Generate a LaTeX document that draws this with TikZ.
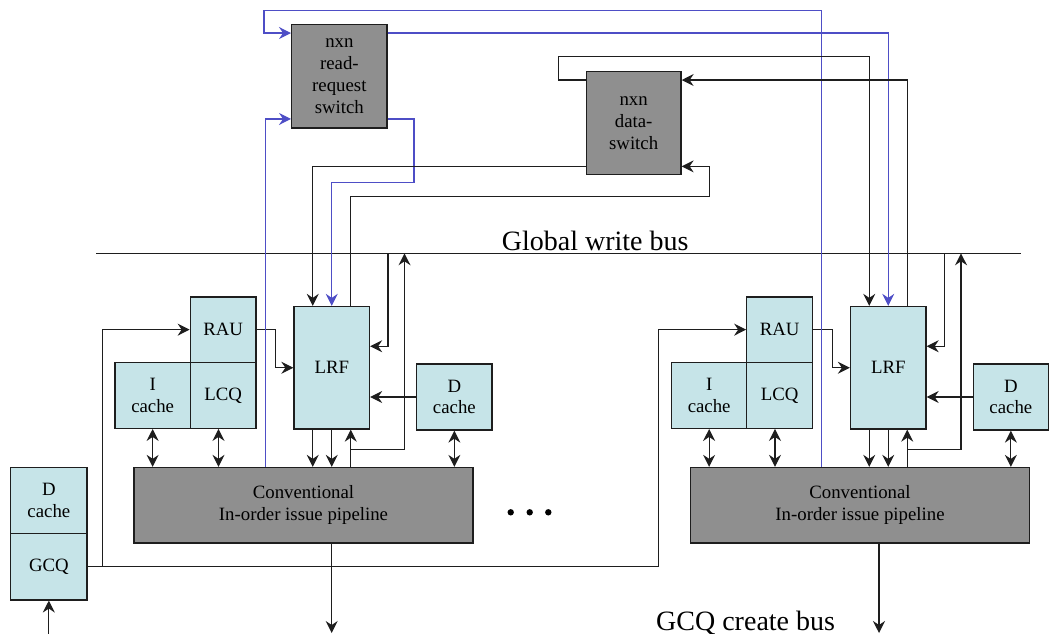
\documentclass[tikz,border=0pt]{standalone}
\usepackage{fontspec}
\setmainfont{Liberation Serif}
\usetikzlibrary{arrows.meta,calc}
\definecolor{boxfill}{HTML}{C6E4E8}
\definecolor{unitgray}{HTML}{8F8F8F}
\definecolor{reqblue}{HTML}{4E4EC6}
\definecolor{wire}{HTML}{1E1E1E}
\begin{document}
\begin{tikzpicture}[x=1pt,y=-1pt,
  >={Stealth[length=12pt,width=12pt,inset=4pt]},
  unitbox/.style={draw=wire, line width=1.3pt, fill=boxfill, inner sep=0pt,
    align=center, font=\fontsize{18.8}{21.7}\selectfont},
  graybox/.style={unitbox, fill=unitgray},
  wireline/.style={draw=wire, line width=1.2pt},
  reqline/.style={draw=reqblue, line width=1.2pt},
  buslabel/.style={font=\fontsize{28}{32}\selectfont, inner sep=0pt}
]
\useasboundingbox (0,0) rectangle (1055,634);

% crossbar switches
\node[graybox, minimum width=95.3pt, minimum height=103.7pt] (rsw) at (339.35,76.15)
  {nxn\\read-\\request\\switch};
\node[graybox, minimum width=94.7pt, minimum height=103.4pt] (dsw) at (633.65,123)
  {nxn\\data-\\switch};

% shared data cache and global communication queue
\node[unitbox, minimum width=76.3pt, minimum height=66pt] (dcs) at (48.85,500.5) {D\\cache};
\node[unitbox, minimum width=76.3pt, minimum height=66.4pt] (gcq) at (48.85,566.7) {GCQ};

% global write bus
\coordinate (busW) at (96,253.3);
\coordinate (busE) at (1020.7,253.3);
\draw[wireline] (busW) -- (busE);
\node[buslabel, anchor=base west] (buslbl) at (501.7,250) {Global write bus};
\node[buslabel, anchor=base west] (gcqlbl) at (656,630) {GCQ create bus};

% two processing units
\foreach \u/\d/\ox in {L/0/331.7,R/556.5/879}{
  \node[unitbox, minimum width=65.7pt, minimum height=65.3pt] (rau\u) at ({\d+223.15},329.65) {RAU};
  \node[unitbox, minimum width=75.3pt, minimum height=66pt] (icache\u) at ({\d+152.65},395.3) {I\\cache};
  \node[unitbox, minimum width=65.7pt, minimum height=66pt] (lcq\u) at ({\d+223.15},395.3) {LCQ};
  \node[unitbox, minimum width=75.5pt, minimum height=122.5pt] (lrf\u) at ({\d+331.75},367.75) {LRF};
  \node[unitbox, minimum width=75.3pt, minimum height=66pt] (dcache\u) at ({\d+454.35},397) {D\\cache};
  \node[graybox, minimum width=339pt, minimum height=75.5pt] (pipe\u) at ({\d+303.5},505.25)
    {Conventional\\In-order issue pipeline};

  \coordinate (botA\u) at ([xshift=-19pt]lrf\u.south);
  \coordinate (botC\u) at ([xshift=19pt]lrf\u.south);
  \coordinate (topA\u) at ([xshift=-19pt]lrf\u.north);
  \coordinate (topC\u) at ([xshift=19pt]lrf\u.north);
  \coordinate (lcqport\u) at ([xshift=-4.65pt]lcq\u.south);
  \coordinate (tap\u) at ($(gcq.east)+({\d+14.5},0)$);
  \coordinate (rq\u) at ($(pipe\u.north west)+(131.8,0)$);
  \coordinate (out\u) at (\ox,633);

  % caches and queues to the pipeline
  \draw[wireline,<->] (icache\u.south) -- (icache\u.south |- pipe\u.north);
  \draw[wireline,<->] (lcqport\u) -- (lcqport\u |- pipe\u.north);
  \draw[wireline,<->] (dcache\u.south) -- (dcache\u.south |- pipe\u.north);
  % register file ports
  \draw[wireline,->] (botA\u) -- (botA\u |- pipe\u.north);
  \draw[wireline,->] (lrf\u.south) -- (lrf\u.south |- pipe\u.north);
  \draw[wireline,->] (botC\u |- pipe\u.north) -- (botC\u);
  \draw[wireline,->] ($(botC\u)+(0,20)$) -| ({\d+404.5},253.3);
  \draw[wireline,->] ({\d+388},253.3) |- ([yshift=21.5pt]lrf\u.east);
  \draw[wireline,->] (dcache\u.west) -- (dcache\u.west -| lrf\u.east);
  \draw[wireline,->] (rau\u.east) -- ++(19.2,0) |- (lrf\u.west);
  % queue feed and pipeline output
  \draw[wireline,->] (tap\u) |- (rau\u.west);
  \draw[wireline,->] (out\u |- pipe\u.south) -- (out\u);
}

\draw[wireline] (gcq.east) -- (tapR);
\draw[wireline,->] (gcq.south |- 0,634) -- (gcq.south);

% read-request network
\coordinate (loop) at (264,10.7);
\draw[reqline,->] (rqR) |- (loop) |- ([yshift=-9.4pt]rsw.north west);
\draw[reqline,->] (rqL) |- ([yshift=9.7pt]rsw.south west);
\draw[reqline,->] ([yshift=-9.4pt]rsw.north east) -| (lrfR.north);
\draw[reqline,->] ([yshift=9.7pt]rsw.south east) -| (414,182.3) -| (lrfL.north);

% data network
\draw[wireline,->] ([yshift=-9.4pt]dsw.north west) -| (558.3,56.7) -| (topAR);
\draw[wireline,->] ([yshift=9pt]dsw.south west) -| (topAL);
\draw[wireline,->] (topCR) |- ([yshift=-9.4pt]dsw.north east);
\draw[wireline,->] (topCL) |- (709.3,196.7) |- ([yshift=9pt]dsw.south east);

% more units in between
\fill (510.7,512.3) circle (3.2pt);
\fill (529.7,512.3) circle (3.2pt);
\fill (548.3,512.3) circle (3.2pt);
\end{tikzpicture}
\end{document}
